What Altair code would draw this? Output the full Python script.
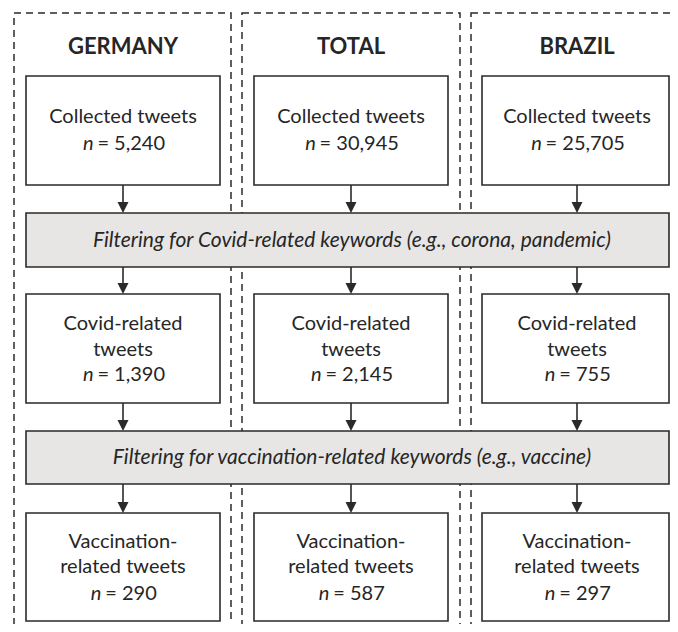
import altair as alt
import pandas as pd

# ---------------- data ----------------
columns = ["GERMANY", "TOTAL", "BRAZIL"]
collected = [5240, 30945, 25705]
covid = [1390, 2145, 755]
vaccination = [290, 587, 297]
stage_labels = [["Collected tweets"], ["Covid-related", "tweets"], ["Vaccination-", "related tweets"]]
filter_labels = [
    "Filtering for Covid-related keywords (e.g., corona, pandemic)",
    "Filtering for vaccination-related keywords (e.g., vaccine)",
]

# ---------------- layout (window pixel coordinates) ----------------
W, H = 662, 616
X0, Y0 = 8, 8
col_left = [14, 242, 471]
col_right = [231, 460, 720]
col_top = 13
box_x = [(26, 220), (254, 448), (482, 669)]
centers = [123, 351, 577]
stage_y = [(76, 185), (294, 403), (513, 621)]
stage_line_base = [[123], [330, 356], [548, 573]]
n_base = [150, 381, 600]
filter_y = [(213, 267), (431, 484)]
filter_x = (26, 669)
filter_base = [247, 464]
header_base = 54
FS = 20
FS_FILTER = 21

INK = "#2a2a2a"
TXT = "#262626"
GRAY = "#e7e6e5"

cw = {",": 0.21, " ": 0.193, "=": 0.58}
def width(s):
    return sum(cw.get(c, 0.58) for c in s) * FS

N_W = 0.55 * FS
SP = 0.193 * FS

xs = alt.Scale(domain=[X0, X0 + W], range=[0, W])
ys = alt.Scale(domain=[Y0, Y0 + H], range=[0, H])

def X(f="x"):
    return alt.X(f"{f}:Q", scale=xs, axis=None)

def Y(f="y"):
    return alt.Y(f"{f}:Q", scale=ys, axis=None)

# dashed columns
cols_df = pd.DataFrame({"x": col_left, "x2": col_right, "y": [col_top] * 3, "y2": [720] * 3})
cols = alt.Chart(cols_df).mark_rect(
    fill="white", fillOpacity=0, stroke=INK, strokeWidth=1.5, strokeDash=[7, 5]
).encode(x=X(), x2="x2:Q", y=Y(), y2="y2:Q")

# boxes
rows = []
for i in range(3):
    for s in range(3):
        rows.append({"x": box_x[i][0], "x2": box_x[i][1], "y": stage_y[s][0], "y2": stage_y[s][1], "fill": "white"})
for f in range(2):
    rows.append({"x": filter_x[0], "x2": filter_x[1], "y": filter_y[f][0], "y2": filter_y[f][1], "fill": GRAY})
boxes_df = pd.DataFrame(rows)
boxes = alt.Chart(boxes_df).mark_rect(stroke=INK, strokeWidth=1.6).encode(
    x=X(), x2="x2:Q", y=Y(), y2="y2:Q", fill=alt.Fill("fill:N", scale=None)
)

# arrows
seg_from = [stage_y[0][1], filter_y[0][1], stage_y[1][1], filter_y[1][1]]
seg_to = [filter_y[0][0], stage_y[1][0], filter_y[1][0], stage_y[2][0]]
arr_rows = []
for c in centers:
    for a, b in zip(seg_from, seg_to):
        arr_rows.append({"x": c, "y": a, "y2": b - 10, "tip": b})
arr_df = pd.DataFrame(arr_rows)
shafts = alt.Chart(arr_df).mark_rule(color=INK, strokeWidth=1.6).encode(x=X(), y=Y(), y2="y2:Q")
heads = alt.Chart(arr_df).mark_point(
    shape="M-1,-2L1,-2L0,0Z", size=121, filled=True, color=INK, opacity=1, strokeWidth=0
).encode(x=X(), y=Y("tip"))

# texts
hdr_df = pd.DataFrame({"x": centers, "y": [header_base] * 3, "text": columns})
headers = alt.Chart(hdr_df).mark_text(
    font="Lato", fontSize=22, fontWeight="bold", color=TXT, baseline="alphabetic", align="center"
).encode(x=X(), y=Y(), text="text:N")

lab_rows = []
for i in range(3):
    for s in range(3):
        for line, yb in zip(stage_labels[s], stage_line_base[s]):
            lab_rows.append({"x": centers[i], "y": yb, "text": line})
lab_df = pd.DataFrame(lab_rows)
labels = alt.Chart(lab_df).mark_text(
    font="Lato", fontSize=FS, color=TXT, baseline="alphabetic", align="center"
).encode(x=X(), y=Y(), text="text:N")

n_rows = []
vals = [collected, covid, vaccination]
for i in range(3):
    for s in range(3):
        rest = "= " + f"{vals[s][i]:,}"
        total = N_W + SP + width(rest)
        anchor = centers[i] - total / 2 + N_W
        n_rows.append({"x": anchor, "x_rest": anchor + SP, "y": n_base[s], "rest": rest})
n_df = pd.DataFrame(n_rows)
n_it = alt.Chart(n_df).mark_text(
    font="Lato", fontSize=FS, fontStyle="italic", color=TXT, baseline="alphabetic", align="right", text="n"
).encode(x=X(), y=Y())
n_rest = alt.Chart(n_df).mark_text(
    font="Lato", fontSize=FS, color=TXT, baseline="alphabetic", align="left"
).encode(x=X("x_rest"), y=Y(), text="rest:N")

flt_df = pd.DataFrame({"x": [352] * 2, "y": filter_base, "text": filter_labels})
filters = alt.Chart(flt_df).mark_text(
    font="Lato", fontSize=FS_FILTER, fontStyle="italic", color=TXT, baseline="alphabetic", align="center"
).encode(x=X(), y=Y(), text="text:N")

chart = alt.layer(cols, boxes, shafts, heads, headers, labels, n_it, n_rest, filters).properties(
    width=W, height=H, padding=0, autosize=alt.AutoSizeParams(type="none")
).configure_view(stroke=None)

chart.save("out.html", embed_options={"renderer": "svg", "actions": False})
